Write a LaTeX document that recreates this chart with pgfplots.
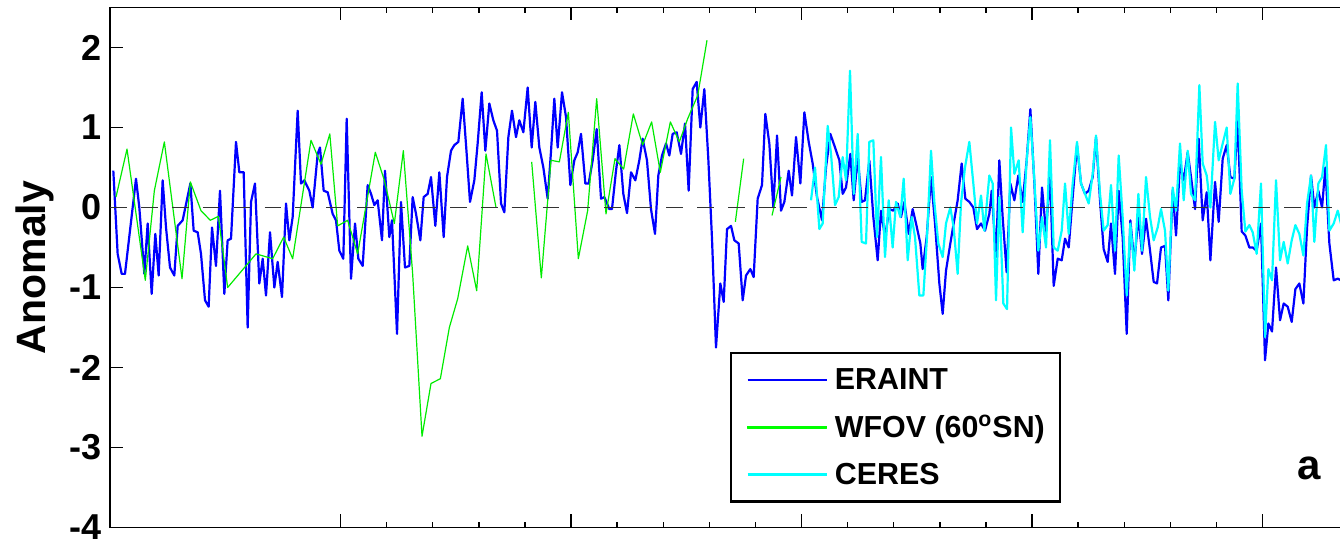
\documentclass[border=0pt]{standalone}
\usepackage{fontspec}
\setmainfont{Liberation Sans}
\usepackage{pgfplots}
\pgfplotsset{compat=1.18}
\definecolor{eblue}{RGB}{0,0,255}
\definecolor{wgreen}{RGB}{0,235,0}
\definecolor{lgreen}{RGB}{0,255,0}
\definecolor{ccyan}{RGB}{0,255,255}
\begin{document}
\begin{tikzpicture}
\begin{axis}[
  name=ax,
  scale only axis,
  width=616.5pt, height=260pt,
  xmin=1985, xmax=2011.746,
  ymin=-4, ymax=2.5,
  xtick={1990,1995,2000,2005,2010},
  minor x tick num=4,
  xticklabels={},
  ytick={-4,-3,-2,-1,0,1,2},
  yticklabels={-4,-3,-2,-1,0,1,2},
  ytick pos=left,
  xtick pos=both,
  tick align=inside,
  major tick length=6.5pt,
  minor tick length=2.8pt,
  axis line style={line width=0.7pt},
  every tick/.style={black, line width=0.7pt},
  yticklabel style={font=\fontsize{18}{20}\selectfont\bfseries, inner sep=0pt, xshift=-4.25pt},
  ylabel={Anomaly},
  ylabel style={font=\fontsize{20.5}{22}\selectfont\bfseries, at={(axis description cs:-0.0527,0.5)}, anchor=base, inner sep=0pt},
  legend style={
    at={(axis cs:1998.449,-1.806)}, anchor=north west,
    draw=black, line width=1.1pt, fill=white,
    font=\fontsize{15.2}{17}\selectfont\bfseries,
    inner xsep=7.5pt, inner ysep=7.35pt,
    row sep=11.7pt, column sep=3.5pt,
    nodes={inner sep=0pt, text height=10.9pt, text depth=1.15pt},
    cells={anchor=west},
  },
]
\addplot[eblue, line width=1.1pt, line join=round,
  legend image code/.code={\draw[eblue, line width=1.3pt] (0pt,0pt) -- (39.5pt,0pt);}] coordinates {
(1985.072,0.46) (1985.166,-0.58) (1985.253,-0.83) (1985.325,-0.83) (1985.564,0.36) (1985.636,0.00)
(1985.745,-0.83) (1985.817,-0.20) (1985.904,-1.08) (1985.983,-0.33) (1986.056,-0.85) (1986.142,0.34)
(1986.215,-0.25) (1986.302,-0.75) (1986.395,-0.85) (1986.468,-0.23) (1986.576,-0.16) (1986.743,0.30)
(1986.815,-0.29) (1986.902,-0.31) (1986.974,-0.58) (1987.061,-1.16) (1987.140,-1.24) (1987.213,-0.25)
(1987.299,-0.73) (1987.386,0.21) (1987.480,-1.08) (1987.552,-0.41) (1987.625,-0.39) (1987.733,0.82)
(1987.806,0.44) (1987.900,0.44) (1987.986,-1.50) (1988.059,0.07) (1988.145,0.30) (1988.239,-0.95)
(1988.312,-0.64) (1988.384,-1.10) (1988.471,-0.31) (1988.565,-1.00) (1988.637,-0.68) (1988.731,-1.12)
(1988.818,0.05) (1988.890,-0.41) (1988.962,-0.12) (1989.071,1.21) (1989.143,0.30) (1989.215,0.34)
(1989.324,0.21) (1989.396,0.00) (1989.505,0.67) (1989.555,0.75) (1989.635,0.21) (1989.722,0.19)
(1989.830,-0.08) (1989.902,-0.16) (1989.975,-0.54) (1990.061,-0.64) (1990.134,1.11) (1990.228,-0.89)
(1990.315,-0.20) (1990.387,-0.64) (1990.481,-0.73) (1990.589,0.28) (1990.662,0.17) (1990.734,0.03)
(1990.806,0.09) (1990.900,-0.41) (1990.965,0.46) (1991.059,-0.37) (1991.117,-0.16) (1991.226,-1.58)
(1991.312,0.07) (1991.399,-0.75) (1991.493,-0.73) (1991.565,0.13) (1991.638,-0.08) (1991.732,-0.41)
(1991.804,0.13) (1991.891,0.17) (1991.963,0.38) (1992.057,-0.23) (1992.144,0.44) (1992.238,-0.37)
(1992.310,0.38) (1992.397,0.71) (1992.469,0.78) (1992.556,0.82) (1992.650,1.36) (1992.737,0.67)
(1992.809,0.07) (1992.903,0.34) (1992.975,0.80) (1993.062,1.44) (1993.142,0.71) (1993.228,1.30)
(1993.315,1.09) (1993.395,0.96) (1993.482,0.05) (1993.554,-0.06) (1993.641,0.88) (1993.720,1.21)
(1993.807,0.88) (1993.879,1.09) (1993.966,0.94) (1994.060,1.50) (1994.147,0.75) (1994.226,1.32)
(1994.313,0.75) (1994.400,0.50) (1994.494,0.11) (1994.566,0.70) (1994.638,1.36) (1994.711,0.75)
(1994.805,1.44) (1994.892,1.13) (1994.986,0.28) (1995.072,0.59) (1995.145,0.69) (1995.217,0.92)
(1995.311,0.30) (1995.383,0.30) (1995.470,0.59) (1995.557,0.98) (1995.651,0.11) (1995.723,0.13)
(1995.832,-0.02) (1995.889,-0.02) (1995.976,0.46) (1996.049,0.78) (1996.135,0.17) (1996.215,-0.07)
(1996.302,0.44) (1996.395,0.34) (1996.482,0.59) (1996.554,0.86) (1996.648,0.59) (1996.735,-0.02)
(1996.822,-0.33) (1996.894,0.40) (1996.974,0.65) (1997.061,0.80) (1997.133,0.65) (1997.205,0.92)
(1997.292,0.94) (1997.386,0.67) (1997.473,1.05) (1997.552,0.21) (1997.639,1.48) (1997.726,1.57)
(1997.805,1.00) (1997.892,1.48) (1997.979,0.60) (1998.059,-0.40) (1998.145,-1.75) (1998.239,-0.95)
(1998.312,-1.18) (1998.384,-0.27) (1998.471,-0.23) (1998.543,-0.41) (1998.637,-0.45) (1998.724,-1.16)
(1998.796,-0.85) (1998.890,-0.77) (1998.962,-0.87) (1999.049,0.11) (1999.143,0.28) (1999.215,1.17)
(1999.302,0.80) (1999.389,0.00) (1999.469,0.90) (1999.555,-0.04) (1999.628,0.07) (1999.722,0.46)
(1999.794,0.15) (1999.881,0.88) (1999.975,0.30) (2000.062,1.19) (2000.156,0.82) (2000.242,0.55)
(2000.336,0.13) (2000.445,-0.16) (2000.531,0.50) (2000.625,0.92) (2000.727,0.75) (2000.821,0.59)
(2000.893,0.17) (2000.965,0.25) (2001.059,0.67) (2001.132,0.09) (2001.219,0.63) (2001.305,0.07)
(2001.377,0.09) (2001.471,0.59) (2001.558,-0.12) (2001.652,-0.66) (2001.724,-0.04) (2001.811,-0.37)
(2001.905,-0.02) (2001.992,-0.04) (2002.086,0.05) (2002.158,-0.12) (2002.231,0.07) (2002.325,-0.33)
(2002.411,-0.02) (2002.484,-0.20) (2002.578,-0.45) (2002.628,-0.77) (2002.715,-0.37) (2002.809,0.38)
(2002.896,-0.20) (2002.990,-0.95) (2003.062,-1.33) (2003.134,-0.79) (2003.228,-0.45) (2003.300,-0.20)
(2003.387,0.09) (2003.474,0.55) (2003.554,0.11) (2003.640,0.07) (2003.727,0.00) (2003.807,-0.27)
(2003.894,-0.20) (2003.980,-0.29) (2004.074,-0.08) (2004.125,0.21) (2004.219,-0.62) (2004.291,0.59)
(2004.363,-0.12) (2004.450,-0.81) (2004.530,0.30) (2004.617,0.09) (2004.703,0.40) (2004.797,0.07)
(2004.884,0.59) (2004.964,1.23) (2005.051,0.30) (2005.137,-0.83) (2005.217,0.25) (2005.304,-0.31)
(2005.390,0.42) (2005.470,-0.98) (2005.557,-0.64) (2005.644,-0.66) (2005.716,-0.39) (2005.796,-0.50)
(2005.882,0.13) (2005.976,0.78) (2006.063,0.30) (2006.150,0.17) (2006.229,0.21) (2006.316,0.38)
(2006.388,0.88) (2006.475,0.09) (2006.554,-0.52) (2006.641,-0.68) (2006.713,-0.20) (2006.800,-0.83)
(2006.880,0.21) (2006.966,-0.37) (2007.054,-1.58) (2007.133,-0.16) (2007.220,-0.70) (2007.307,-0.10)
(2007.386,-0.58) (2007.473,-0.14) (2007.560,-0.54) (2007.639,-0.93) (2007.712,-0.95) (2007.798,-0.50)
(2007.885,-0.48) (2007.957,-1.16) (2008.051,0.21) (2008.124,-0.35) (2008.210,0.55) (2008.290,0.34)
(2008.377,0.69) (2008.449,0.38) (2008.536,-0.02) (2008.615,0.86) (2008.702,-0.16) (2008.789,0.19)
(2008.869,-0.66) (2008.970,0.32) (2009.049,-0.18) (2009.136,0.61) (2009.223,0.78) (2009.302,0.38)
(2009.389,0.36) (2009.461,1.09) (2009.548,-0.30) (2009.628,-0.35) (2009.714,-0.50) (2009.787,-0.50)
(2009.873,-0.54) (2009.967,-0.20) (2010.054,-1.91) (2010.127,-1.45) (2010.206,-1.55) (2010.293,-0.75)
(2010.380,-1.41) (2010.459,-1.20) (2010.546,-1.24) (2010.633,-1.43) (2010.713,-1.02) (2010.799,-0.95)
(2010.886,-1.20) (2010.966,-0.25) (2011.052,0.40) (2011.124,0.00) (2011.211,0.21) (2011.291,0.00)
(2011.363,0.50) (2011.450,-0.45) (2011.544,-0.91) (2011.631,-0.89) (2011.702,-0.91)
};
\addlegendentry{ERAINT}
\addplot[wgreen, line width=0.6pt, line join=round, unbounded coords=jump,
  legend image code/.code={\fill[lgreen] (0pt,-0.45pt) rectangle (39.5pt,0.45pt);}] coordinates {
(1985.130,0.13) (1985.369,0.73) (1985.766,-0.91) (1985.962,0.21) (1986.179,0.82) (1986.562,-0.89)
(1986.743,0.32) (1986.974,-0.04) (1987.176,-0.16) (1987.350,-0.11) (1987.552,-1.00) (1988.167,-0.58)
(1988.529,-0.64) (1988.767,-0.37) (1988.962,-0.64) (1989.360,0.84) (1989.577,0.54) (1989.768,0.92)
(1989.938,-0.23) (1990.155,-0.16) (1990.372,-0.58) (1990.755,0.69) (1990.951,0.34) (1991.168,-0.20)
(1991.363,0.71) (1991.565,-0.83) (1991.768,-2.86) (1991.963,-2.20) (1992.166,-2.14) (1992.361,-1.50)
(1992.542,-1.14) (1992.759,-0.48) (1992.954,-1.04) (1993.156,0.67) (1993.373,0.00)
(1993.700,nan)
(1994.147,0.57) (1994.356,-0.88) (1994.566,0.59) (1994.747,0.57) (1994.942,1.19) (1995.159,-0.64)
(1995.361,-0.04) (1995.557,1.36) (1995.759,-0.08) (1995.954,0.61) (1996.142,0.48) (1996.352,1.17)
(1996.554,0.78) (1996.749,1.07) (1996.937,0.44) (1997.155,1.07) (1997.350,0.82) (1997.531,1.11)
(1997.748,1.40) (1997.950,2.09)
(1998.200,nan)
(1998.565,-0.18) (1998.745,0.61)
(1999.000,nan)
(1999.360,-0.10) (1999.555,0.38)
};
\addlegendentry{WFOV (60\textsuperscript{o}SN)}
\addplot[ccyan, line width=1.1pt, line join=round,
  legend image code/.code={\draw[ccyan, line width=1.4pt] (0pt,0pt) -- (39.5pt,0pt);}] coordinates {
(2000.206,0.09) (2000.293,0.50) (2000.387,-0.27) (2000.459,-0.20) (2000.568,1.02) (2000.640,0.67)
(2000.727,0.03) (2000.806,0.13) (2000.893,0.63) (2000.965,0.34) (2001.052,1.71) (2001.132,0.17)
(2001.219,0.92) (2001.305,-0.43) (2001.399,-0.45) (2001.471,0.82) (2001.558,0.84) (2001.638,-0.37)
(2001.724,0.63) (2001.811,-0.62) (2001.891,0.09) (2001.977,-0.50) (2002.050,0.07) (2002.144,-0.12)
(2002.216,0.36) (2002.303,-0.66) (2002.390,-0.12) (2002.462,-0.37) (2002.556,-1.10) (2002.643,-1.10)
(2002.722,-0.37) (2002.809,0.71) (2002.881,0.07) (2002.968,-0.45) (2003.062,-0.62) (2003.134,-0.20)
(2003.228,0.00) (2003.300,-0.25) (2003.387,-0.83) (2003.459,0.05) (2003.546,0.50) (2003.640,0.82)
(2003.727,0.30) (2003.807,-0.20) (2003.894,0.15) (2003.966,-0.29) (2004.074,0.40) (2004.147,0.30)
(2004.219,-1.16) (2004.291,0.13) (2004.378,-1.20) (2004.458,-1.27) (2004.545,1.00) (2004.617,0.42)
(2004.711,0.59) (2004.797,-0.31) (2004.884,0.59) (2004.964,1.13) (2005.051,0.34) (2005.137,-0.54)
(2005.217,-0.12) (2005.304,-0.50) (2005.390,0.84) (2005.470,-0.50) (2005.557,-0.54) (2005.644,-0.29)
(2005.716,0.30) (2005.796,-0.33) (2005.882,0.30) (2005.976,0.82) (2006.063,0.30) (2006.150,0.17)
(2006.229,0.05) (2006.316,0.42) (2006.388,0.90) (2006.475,0.17) (2006.554,-0.29) (2006.641,-0.22)
(2006.713,0.28) (2006.800,-0.54) (2006.880,0.65) (2006.966,-0.12) (2007.054,-1.10) (2007.133,-0.20)
(2007.220,-0.79) (2007.307,0.17) (2007.386,-0.54) (2007.473,0.38) (2007.560,-0.12) (2007.639,-0.41)
(2007.726,-0.25) (2007.798,-0.02) (2007.885,-0.29) (2007.957,-1.04) (2008.051,0.25) (2008.124,-0.04)
(2008.210,0.80) (2008.290,0.09) (2008.377,0.71) (2008.449,0.17) (2008.536,0.09) (2008.630,1.53)
(2008.702,0.55) (2008.789,0.40) (2008.869,0.00) (2008.970,1.07) (2009.049,0.59) (2009.136,0.80)
(2009.223,1.00) (2009.302,0.17) (2009.389,0.36) (2009.461,1.55) (2009.548,0.21) (2009.628,-0.30)
(2009.714,-0.22) (2009.787,-0.31) (2009.873,-0.58) (2009.967,0.30) (2010.054,-1.62) (2010.127,-0.77)
(2010.206,-0.91) (2010.293,0.34) (2010.380,-0.66) (2010.459,-0.43) (2010.546,-0.70) (2010.633,-0.41)
(2010.713,-0.22) (2010.799,-0.33) (2010.886,-0.60) (2010.966,0.05) (2011.052,0.40) (2011.124,-0.43)
(2011.211,0.30) (2011.291,0.38) (2011.377,0.78) (2011.450,-0.29) (2011.544,-0.20) (2011.631,-0.04)
(2011.702,-0.20)
};
\addlegendentry{CERES}
\addplot[black!80, line width=0.7pt, dash pattern=on 8.35pt off 7.1pt, forget plot] coordinates {(1985,0) (2011.746,0)};
\node[font=\fontsize{21}{21}\selectfont\bfseries] at (axis cs:2011.01,-3.26) {a};
\end{axis}
\pgfresetboundingbox
\path[use as bounding box] ([xshift=-55pt,yshift=-8.25pt]ax.south west) rectangle ([xshift=-1.5pt,yshift=3.75pt]ax.north east);
\end{tikzpicture}
\end{document}
